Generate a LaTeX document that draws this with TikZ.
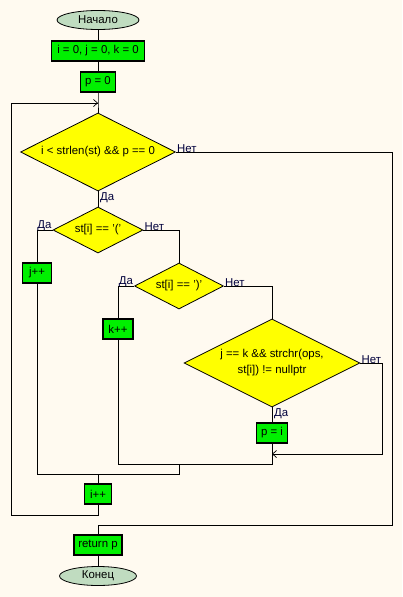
\documentclass[tikz,border=0pt]{standalone}
\usepackage{fontspec}
\setmainfont{Liberation Sans}
\usetikzlibrary{shapes.geometric,arrows.meta}
\definecolor{bg}{RGB}{255,250,240}
\definecolor{procg}{RGB}{0,240,0}
\definecolor{decy}{RGB}{255,255,0}
\definecolor{termg}{RGB}{192,220,192}
\definecolor{lblc}{RGB}{0,0,60}
\tikzset{
  every node/.style={font=\fontsize{11.4}{16}\selectfont, inner sep=0pt},
  proc/.style={rectangle, draw=black, line width=1.1pt, fill=procg, minimum height=20pt},
  dec/.style={diamond, aspect=2, draw=black, line width=0.8pt, fill=decy, align=center},
  term/.style={ellipse, draw=black, line width=0.8pt, fill=termg, minimum height=19pt},
  lbl/.style={text=lblc, font=\fontsize{11.4}{13}\selectfont},
  conn/.style={line width=1pt},
  tip/.style={-{Straight Barb[length=4pt,width=7pt,line width=0.7pt]}},
}
\begin{document}
\begin{tikzpicture}[x=1pt,y=-1pt]
\useasboundingbox (0,0) rectangle (402,597);
\fill[bg] (0,0) rectangle (402,597);

% nodes
\node[term, minimum width=82pt] (start) at (98,20) {Начало};
\node[proc, minimum width=93pt] (init) at (98,51) {i = 0, j = 0, k = 0};
\node[proc, minimum width=35pt] (p0) at (98,82) {p = 0};
\node[dec, minimum width=155pt, minimum height=78pt] (d1) at (98,152) {i < strlen(st) \&\& p == 0};
\node[dec, minimum width=90pt, minimum height=46pt] (d2) at (98,230) {st[i] == '('};
\node[proc, minimum width=29pt] (jpp) at (37,273) {j++};
\node[dec, minimum width=89pt, minimum height=46pt] (d3) at (179,286) {st[i] == ')'};
\node[proc, minimum width=30pt] (kpp) at (118,329) {k++};
\node[dec, minimum width=176pt, minimum height=88pt] (d4) at (272,363) {j == k \&\& strchr(ops,\\ st[i]) != nullptr};
\node[proc, minimum width=31pt] (pi) at (272,433) {p = i};
\node[proc, minimum width=27pt] (ipp) at (98,494) {i++};
\node[proc, minimum width=48pt] (ret) at (98,545) {return p};
\node[term, minimum width=77pt] (fin) at (98,576) {Конец};

% coordinates
\coordinate (m1) at (98,103);
\coordinate (loopTL) at (11,103);
\coordinate (loopBL) at (11,515);
\coordinate (loopBR) at (98,515);
\coordinate (n1a) at (392,152);
\coordinate (n1b) at (392,525);
\coordinate (n1c) at (98,525);
\coordinate (y2a) at (37,230);
\coordinate (n2a) at (179,230);
\coordinate (j2a) at (37,474);
\coordinate (j2b) at (179,474);
\coordinate (m2) at (98,474);
\coordinate (y3a) at (118,286);
\coordinate (n3a) at (272,286);
\coordinate (k3a) at (118,464);
\coordinate (j3b) at (272,464);
\coordinate (j3c) at (179,464);
\coordinate (n4a) at (382,363);
\coordinate (n4b) at (382,454);
\coordinate (m4) at (272,454);

% connectors
\draw[conn] (start) -- (init);
\draw[conn] (init) -- (p0);
\draw[conn] (p0) -- (m1) -- (d1.north);
\draw[conn] (d1.south) -- (d2.north);
\draw[conn] (d1.east) -- (n1a) -- (n1b) -- (n1c) -- (ret.north);
\draw[conn] (d2.west) -- (y2a) -- (jpp.north);
\draw[conn] (jpp.south) -- (j2a) -- (j2b) -- (j3c);
\draw[conn] (d2.east) -- (n2a) -- (d3.north);
\draw[conn] (d3.west) -- (y3a) -- (kpp.north);
\draw[conn] (kpp.south) -- (k3a) -- (j3b) -- (pi.south);
\draw[conn] (d3.east) -- (n3a) -- (d4.north);
\draw[conn] (d4.south) -- (pi.north);
\draw[conn] (d4.east) -- (n4a) -- (n4b) -- (m4);
\draw[conn, tip] (n4b) -- (m4);
\draw[conn] (m2) -- (ipp.north);
\draw[conn] (ipp.south) -- (loopBR) -- (loopBL) -- (loopTL) -- (m1);
\draw[conn, tip] (loopTL) -- (m1);
\draw[conn] (ret) -- (fin);

% labels
\node[lbl, anchor=south west] (l1n) at ([xshift=1pt,yshift=-1pt]d1.east) {Нет};
\node[lbl, anchor=north west] (l1y) at ([xshift=2pt,yshift=-1pt]d1.south) {Да};
\node[lbl, anchor=south east] (l2y) at ([xshift=-1pt,yshift=-1pt]d2.west) {Да};
\node[lbl, anchor=south west] (l2n) at ([xshift=1pt,yshift=-1pt]d2.east) {Нет};
\node[lbl, anchor=south east] (l3y) at ([xshift=-1pt,yshift=-1pt]d3.west) {Да};
\node[lbl, anchor=south west] (l3n) at ([xshift=1pt,yshift=-1pt]d3.east) {Нет};
\node[lbl, anchor=south west] (l4n) at ([xshift=1pt,yshift=-1pt]d4.east) {Нет};
\node[lbl, anchor=north west] (l4y) at ([xshift=2pt,yshift=-1pt]d4.south) {Да};
\end{tikzpicture}
\end{document}
